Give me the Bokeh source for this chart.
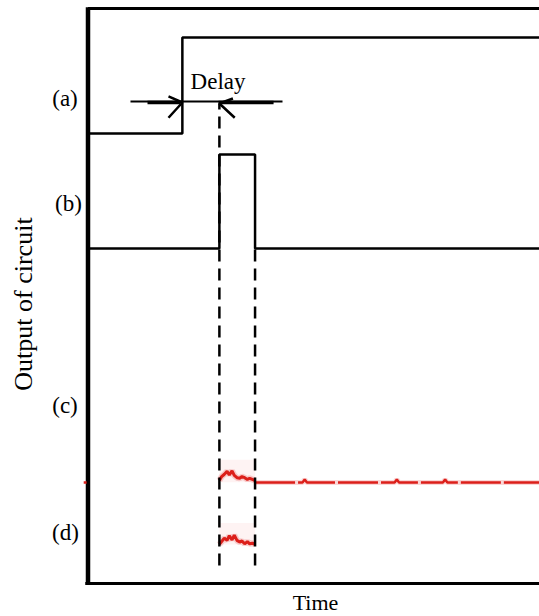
from bokeh.plotting import figure
from bokeh.models import Range1d
from bokeh.core.properties import value
from bokeh.embed import file_html
from bokeh.resources import INLINE

# ---- data (time in arbitrary units, level in arbitrary units) ----
# frame
t_end = 100.0
level_top = 100.0

# (a) input step
a_t = [0.0, 20.9, 20.9, 100.0]
a_level = [78.26, 78.26, 94.96, 94.96]

# (b) output pulse
b_t = [0.0, 29.1, 29.1, 37.0, 37.0, 100.0]
b_level = [58.26, 58.26, 74.61, 74.61, 58.26, 58.26]

# pulse window edges (dashed guides)
win_start, win_end = 29.1, 37.0
guide_bottom = 3.13
guide_top_left = 83.48
guide_top_right = 58.26

# delay dimension
delay_level = 83.83
delay_span = [9.41, 43.08]
delay_thick_left = [13.18, 20.49]
delay_thick_right = [28.9, 41.1]
arrow_r_t = [17.83, 20.9, 17.83]
arrow_r_level = [84.7, 83.65, 81.0]
arrow_l_t = [32.1, 29.1, 32.5]
arrow_l_level = [84.35, 83.48, 81.0]

# (c) measured trace
c_win_t = [29.1, 29.6, 30.2, 30.8, 31.3, 31.9, 32.4, 33.0, 33.6, 34.1, 34.7, 35.3, 35.8, 36.4, 37.0]
c_win_level = [17.9, 18.6, 19.0, 19.5, 18.9, 19.6, 18.8, 18.4, 18.3, 18.6, 18.4, 18.1, 18.3, 18.1, 17.9]
c_tail_t = [37.0, 47.5, 48.0, 48.5, 67.9, 68.4, 68.9, 78.6, 79.1, 79.6, 100.0]
c_tail_level = [17.57, 17.57, 18.1, 17.57, 17.57, 18.1, 17.57, 17.57, 18.1, 17.57, 17.57]
c_left_t = [-0.95, -0.3]
c_left_level = [17.57, 17.57]

# (d) measured trace
d_win_t = c_win_t
d_win_level = [6.8, 7.3, 7.9, 7.5, 8.3, 7.6, 8.4, 7.5, 7.2, 7.4, 6.9, 7.3, 6.9, 7.0, 6.8]

# labels
trace_labels = ["(a)", "(b)", "(c)", "(d)"]
label_t = [-5.09, -4.32, -5.09, -4.98]
label_level = [84.35, 66.09, 30.96, 8.87]

serif = value("Liberation Serif")

p = figure(width=539, height=616, x_range=Range1d(-19.38, 100.0),
           y_range=Range1d(-5.739, 101.39), output_backend="svg",
           toolbar_location=None, min_border=0)
p.axis.visible = False
p.grid.visible = False
p.outline_line_color = None
p.background_fill_color = "white"
p.border_fill_color = "white"

# frame
p.line([0, 0], [-0.2, level_top + 0.2], line_color="black", line_width=4.5)
p.line([-0.6, t_end], [0, 0], line_color="black", line_width=3)
p.line([0, t_end], [level_top, level_top], line_color="black", line_width=3)

# faint haze around measured traces
p.quad(left=[win_start, win_start], right=[win_end, win_end],
       bottom=[17.6, 6.8], top=[21.5, 10.5],
       fill_color="#fdeeee", fill_alpha=0.7, line_color=None)

# red measured traces
red = "#dc1f1a"
p.line(c_win_t, c_win_level, line_color="#f2a0a0", line_width=6, line_alpha=0.5)
p.line(c_win_t, c_win_level, line_color=red, line_width=3)
p.line(c_tail_t, c_tail_level, line_color="#f5b0b0", line_width=5, line_alpha=0.5)
p.line(c_tail_t, c_tail_level, line_color=red, line_width=2.5, line_dash="40 3")
p.line(c_left_t, c_left_level, line_color=red, line_width=2.5)
p.line(d_win_t, d_win_level, line_color="#f2a0a0", line_width=6, line_alpha=0.5)
p.line(d_win_t, d_win_level, line_color=red, line_width=3)

# dashed guides
p.line([win_start, win_start], [guide_bottom, guide_top_left], line_color="black",
       line_width=2.5, line_dash="12 7")
p.line([win_end, win_end], [guide_bottom, guide_top_right], line_color="black",
       line_width=2.5, line_dash="12 7")

# waveforms
p.line(a_t, a_level, line_color="black", line_width=2.5)
p.line(b_t, b_level, line_color="black", line_width=2.5)

# delay dimension
p.line(delay_span, [delay_level, delay_level], line_color="black", line_width=2)
p.line(delay_thick_left, [delay_level - 0.2, delay_level - 0.2], line_color="black", line_width=3.5)
p.line(delay_thick_right, [delay_level - 0.2, delay_level - 0.2], line_color="black", line_width=3.5)
p.line(arrow_r_t, arrow_r_level, line_color="black", line_width=2.5)
p.line(arrow_l_t, arrow_l_level, line_color="black", line_width=2.5)

p.text(x=[28.8], y=[87.3], text=["Delay"], text_font=serif, text_font_size="23px",
       text_align="center", text_baseline="middle", text_color="black")

# trace labels
p.text(x=label_t, y=label_level, text=trace_labels, text_font=serif,
       text_font_size="23px", text_align="center", text_baseline="middle",
       text_color="black")

# axis titles
p.text(x=[50.39], y=[-3.3], text=["Time"], text_font=serif, text_font_size="22px",
       text_align="center", text_baseline="middle", text_color="black")
p.text(x=[-14.29], y=[48.6], text=["Output of circuit"], text_font=serif,
       text_font_size="26px", text_align="center", text_baseline="middle",
       angle=1.5708, text_color="black")

open("out.html", "w").write(file_html(p, INLINE))
